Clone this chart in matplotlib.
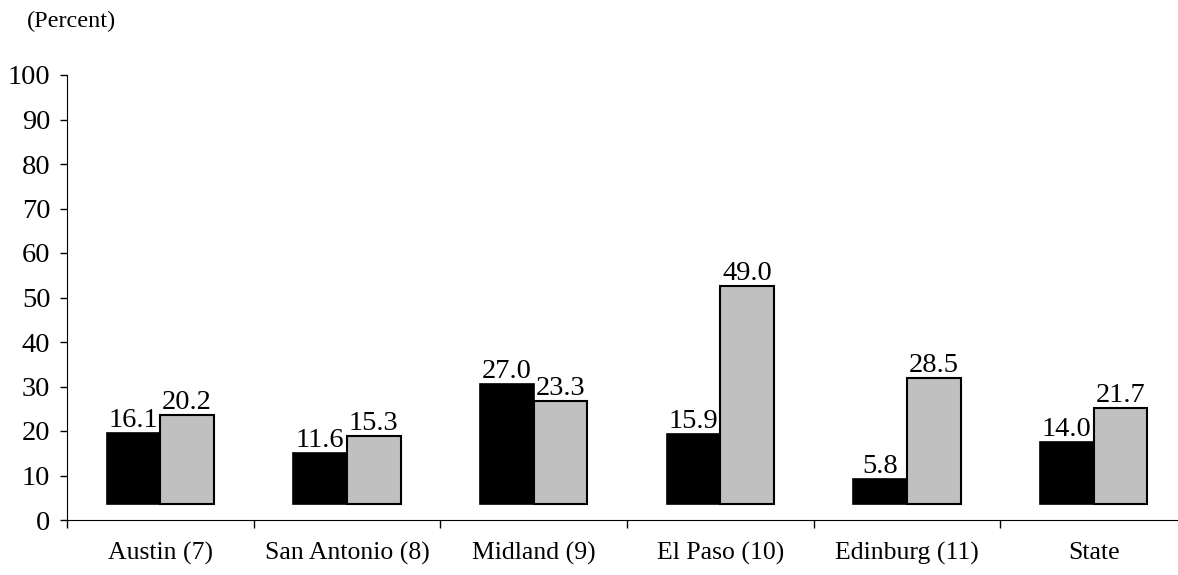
import numpy as np
import matplotlib.pyplot as plt

# Datos del gráfico
categorias = ["Austin (7)", "San Antonio (8)", "Midland (9)", "El Paso (10)", "Edinburg (11)", "State"]
serie_negra = [16.1, 11.6, 27.0, 15.9, 5.8, 14.0]
serie_gris = [20.2, 15.3, 23.3, 49.0, 28.5, 21.7]
base = 3.5  # las barras arrancan algo por encima del eje, como en el original

plt.rcParams['font.family'] = ['Liberation Serif', 'DejaVu Serif']

fig = plt.figure(figsize=(11.78, 5.75), dpi=100)
ax = fig.add_axes([67 / 1178, 1 - 520 / 575, 6 * 186.67 / 1178, 445 / 575])

x = np.arange(len(categorias)) + 0.5
ancho = 0.287

b1 = ax.bar(x - ancho / 2, serie_negra, ancho, bottom=base, color="black",
            edgecolor="black", linewidth=1.2)
b2 = ax.bar(x + ancho / 2, serie_gris, ancho, bottom=base, color="#c0c0c0",
            edgecolor="black", linewidth=1.5)

for barras, valores in [(b1, serie_negra), (b2, serie_gris)]:
    for r, v in zip(barras, valores):
        ax.text(r.get_x() + r.get_width() / 2, base + v, f"{v:.1f}",
                ha="center", va="bottom", fontsize=20.5)

ax.set_xlim(0, 6)
ax.set_ylim(0, 100)
ax.set_yticks(range(0, 101, 10))
ax.tick_params(axis="y", direction="out", length=5, width=1, labelsize=20.5, pad=7)

# ticks mayores entre categorías, etiquetas en los menores
ax.set_xticks(range(0, 7))
ax.set_xticklabels([])
ax.set_xticks(x, minor=True)
ax.set_xticklabels(categorias, minor=True)
ax.tick_params(axis="x", which="major", direction="out", length=6, width=1)
ax.tick_params(axis="x", which="minor", length=0, labelsize=18.5, pad=16)

ax.spines["top"].set_visible(False)
ax.spines["right"].set_visible(False)

fig.text(27 / 1178, 1 - 21 / 575, "(Percent)", fontsize=17.5, ha="left", va="center")

fig.savefig("out.png", dpi=100)
